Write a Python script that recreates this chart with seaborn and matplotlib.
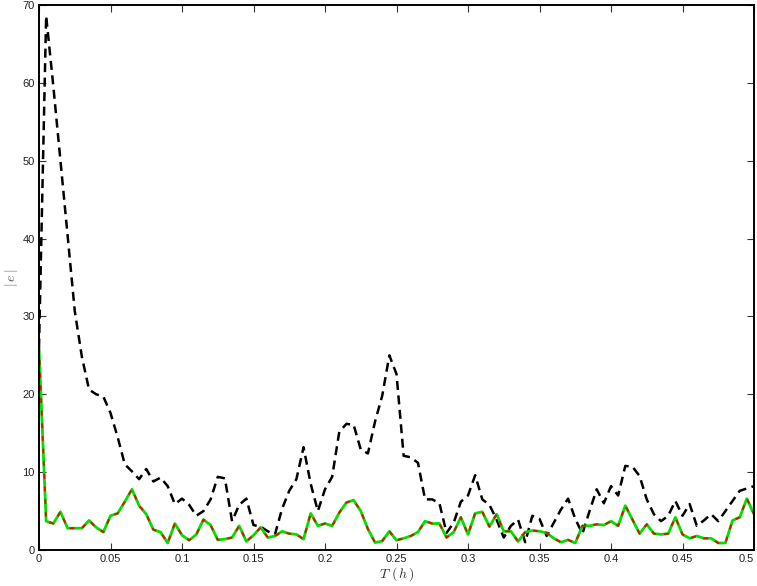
import numpy as np
import pandas as pd
import matplotlib
matplotlib.use("Agg")
import matplotlib.pyplot as plt
import seaborn as sns

# Sampling instants (hours), step 0.005 h
t_hours = [round(0.005 * i, 3) for i in range(101)]

# |e| for the first estimator (black dashed)
err_a = [26, 68.6, 59.6, 50, 40.4, 30.7, 24.8, 20.6, 20.0, 19.7,
         17.6, 14.5, 11.0, 10.1, 9.1, 10.4, 8.8, 9.3, 8.2, 5.9,
         6.6, 5.8, 4.4, 5.0, 6.5, 9.4, 9.2, 3.7, 5.8, 6.6,
         3.2, 3.0, 2.4, 2.0, 5.3, 7.6, 9.1, 13.2, 8.5, 5.0,
         7.8, 9.4, 15.2, 16.2, 16.1, 12.9, 12.4, 16.5, 19.8, 25.0,
         22.6, 12.1, 11.9, 11.2, 6.5, 6.5, 6.0, 2.2, 3.5, 6.2,
         7.0, 9.6, 6.5, 5.8, 3.9, 1.6, 3.1, 3.9, 1.0, 4.4,
         4.0, 1.8, 3.5, 5.2, 6.6, 4.0, 2.1, 5.0, 7.8, 6.0,
         8.2, 7.0, 10.8, 10.7, 9.5, 6.5, 4.6, 3.7, 4.4, 6.3,
         4.4, 5.9, 3.1, 3.8, 4.6, 3.7, 5.0, 6.3, 7.6, 7.9,
         8.2]

# |e| for the second estimator (green solid)
err_b = [26, 3.7, 3.4, 4.9, 2.8, 2.8, 2.8, 3.8, 2.9, 2.3,
         4.4, 4.7, 6.2, 7.8, 5.7, 4.6, 2.6, 2.3, 0.9, 3.4,
         1.9, 1.25, 2.0, 3.9, 3.2, 1.3, 1.4, 1.6, 3.1, 1.1,
         1.9, 2.9, 1.6, 1.8, 2.4, 2.1, 2.0, 1.4, 4.7, 3.1,
         3.4, 3.1, 4.8, 6.1, 6.4, 5.0, 2.7, 0.95, 1.15, 2.4,
         1.25, 1.5, 1.8, 2.3, 3.7, 3.4, 3.4, 1.6, 2.3, 4.2,
         2.0, 4.7, 4.9, 3.0, 4.6, 2.4, 2.4, 1.1, 2.3, 2.5,
         2.4, 2.2, 1.5, 1.0, 1.3, 0.9, 3.1, 3.1, 3.3, 3.2,
         3.7, 3.1, 5.7, 3.9, 2.1, 3.3, 2.1, 2.0, 2.1, 4.2,
         2.0, 1.5, 1.8, 1.5, 1.5, 0.9, 0.9, 3.8, 4.2, 6.6,
         4.6]

# |e| for the third estimator (red dashed), coincides with the green one
err_c = list(err_b)

x_ticks = [0, 0.05, 0.1, 0.15, 0.2, 0.25, 0.3, 0.35, 0.4, 0.45, 0.5]
x_tick_labels = ["0", "0.05", "0.1", "0.15", "0.2", "0.25", "0.3", "0.35", "0.4", "0.45", "0.5"]
y_ticks = [0, 10, 20, 30, 40, 50, 60, 70]

df = pd.DataFrame({"t": t_hours, "a": err_a, "b": err_b, "c": err_c})

sns.set_style("ticks")
plt.rcParams["font.family"] = ["Liberation Sans", "DejaVu Sans"]
plt.rcParams["mathtext.fontset"] = "cm"

fig = plt.figure(figsize=(7.57, 5.86), dpi=100)
ax = fig.add_axes([39 / 757, 36 / 586, 715 / 757, 545 / 586])

sns.lineplot(data=df, x="t", y="a", ax=ax, color="black", linewidth=1.8,
             linestyle=(0, (3.6, 2.2)))
sns.lineplot(data=df, x="t", y="b", ax=ax, color="#00e000", linewidth=2.0)
sns.lineplot(data=df, x="t", y="c", ax=ax, color="#e01000", linewidth=1.4,
             linestyle=(0, (2.5, 4.0)))

ax.set_xlim(0, 0.5)
ax.set_ylim(0, 70)
ax.set_xticks(x_ticks)
ax.set_xticklabels(x_tick_labels)
ax.set_yticks(y_ticks)

ax.tick_params(axis="both", direction="in", length=5, width=0.8,
               labelsize=8, colors="#333333", top=True, right=True,
               labelcolor="#222222", pad=3)
# keep the last x tick label inside the figure edge
ax.get_xticklabels()[-1].set_horizontalalignment("right")

for side in ["left", "right", "top", "bottom"]:
    ax.spines[side].set_visible(True)
    ax.spines[side].set_linewidth(1.4)
    ax.spines[side].set_color("black")

ax.set_xlabel(r"$T\ (\,h\,)$", fontsize=10, color="#333333", labelpad=1)
ax.set_ylabel(r"$|\,e\,|$", fontsize=10, color="#555555")
ax.yaxis.set_label_coords(-0.026, 0.5)

fig.savefig("out.png", dpi=100)
